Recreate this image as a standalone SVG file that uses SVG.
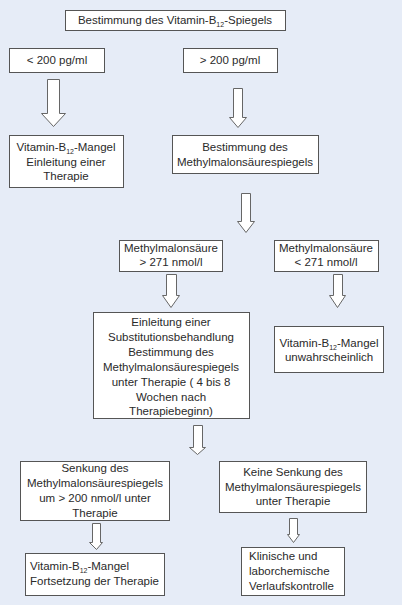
<svg xmlns="http://www.w3.org/2000/svg" width="402" height="605" viewBox="0 0 402 605">
<style>
.bg{fill:#e6ecf7}
.box{fill:#ffffff;stroke:#555555;stroke-width:1}
.arr{fill:#ffffff;stroke:#666666;stroke-width:1;stroke-linejoin:miter}
text{font-family:"Liberation Sans",Arial,sans-serif;font-size:11.5px;fill:#2a2a2a}
.c{text-anchor:middle}
.sub{font-size:7px}
</style>
<rect class="bg" x="0" y="0" width="402" height="605"/>
<g id="connectors">
<path class="arr" d="M47.5,79.5 H59.5 V113.5 H65.5 L53.5,126.5 L41.5,113.5 H47.5 Z"/>
<path class="arr" d="M233.5,88.5 H242.5 V117.5 H246.5 L238,127.5 L229.5,117.5 H233.5 Z"/>
<path class="arr" d="M241.5,193.5 H250.5 V221.5 H254.5 L246,232.5 L237.5,221.5 H241.5 Z"/>
<path class="arr" d="M166.5,274.5 H176.5 V295.5 H179.5 L171,307.5 L162.5,295.5 H166.5 Z"/>
<path class="arr" d="M333.5,274.5 H342.5 V295.5 H345.5 L337.5,307.5 L329.5,295.5 H333.5 Z"/>
<path class="arr" d="M193.5,425.5 H202.5 V447.5 H205.5 L197.5,454.5 L189.5,447.5 H193.5 Z"/>
<path class="arr" d="M92.5,523.5 H100.5 V542.5 H102.5 L96.5,549.5 L89.5,542.5 H92.5 Z"/>
<path class="arr" d="M289.5,518.5 H297.5 V534.5 H299.5 L293.5,542.5 L287.5,534.5 H289.5 Z"/>
</g>
<g id="n1">
<rect class="box" x="65.5" y="10.5" width="220" height="20"/>
<text class="c" x="175" y="24">Bestimmung des Vitamin-B<tspan class="sub" dy="3">12</tspan><tspan dy="-3">-Spiegels</tspan></text>
</g>
<g id="n2">
<rect class="box" x="9.5" y="48.5" width="95" height="24"/>
<text class="c" x="57" y="64">&lt; 200 pg/ml</text>
</g>
<g id="n3">
<rect class="box" x="183.5" y="48.5" width="94" height="24"/>
<text class="c" x="230" y="64">&gt; 200 pg/ml</text>
</g>
<g id="n4">
<rect class="box" x="9.5" y="135.5" width="114" height="52"/>
<text class="c" x="66" y="151">Vitamin-B<tspan class="sub" dy="3">12</tspan><tspan dy="-3">-Mangel</tspan></text>
<text class="c" x="66" y="166">Einleitung einer</text>
<text class="c" x="66" y="180">Therapie</text>
</g>
<g id="n5">
<rect class="box" x="172.5" y="135.5" width="146" height="38"/>
<text class="c" x="245" y="151">Bestimmung des</text>
<text class="c" x="245" y="166">Methylmalonsäurespiegels</text>
</g>
<g id="n6">
<rect class="box" x="119.5" y="240.5" width="103" height="31"/>
<text class="c" x="171" y="252">Methylmalonsäure</text>
<text class="c" x="171" y="266">&gt; 271 nmol/l</text>
</g>
<g id="n7">
<rect class="box" x="274.5" y="240.5" width="104" height="31"/>
<text class="c" x="326" y="252">Methylmalonsäure</text>
<text class="c" x="326" y="266">&lt; 271 nmol/l</text>
</g>
<g id="n8">
<rect class="box" x="93.5" y="312.5" width="156" height="106"/>
<text class="c" x="171" y="326">Einleitung einer</text>
<text class="c" x="171" y="341">Substitutionsbehandlung</text>
<text class="c" x="171" y="356">Bestimmung des</text>
<text class="c" x="171" y="371">Methylmalonsäurespiegels</text>
<text class="c" x="171" y="386">unter Therapie ( 4 bis 8</text>
<text class="c" x="171" y="401">Wochen nach</text>
<text class="c" x="171" y="415">Therapiebeginn)</text>
</g>
<g id="n9">
<rect class="box" x="274.5" y="326.5" width="109" height="46"/>
<text class="c" x="329" y="347">Vitamin-B<tspan class="sub" dy="3">12</tspan><tspan dy="-3">-Mangel</tspan></text>
<text class="c" x="329" y="361">unwahrscheinlich</text>
</g>
<g id="n10">
<rect class="box" x="20.5" y="461.5" width="149" height="59"/>
<text class="c" x="95" y="472">Senkung des</text>
<text class="c" x="95" y="487">Methylmalonsäurespiegels</text>
<text class="c" x="95" y="502">um &gt; 200 nmol/l unter</text>
<text class="c" x="95" y="517">Therapie</text>
</g>
<g id="n11">
<rect class="box" x="219.5" y="461.5" width="147" height="51"/>
<text class="c" x="293" y="476">Keine Senkung des</text>
<text class="c" x="293" y="491">Methylmalonsäurespiegels</text>
<text class="c" x="293" y="505">unter Therapie</text>
</g>
<g id="n12">
<rect class="box" x="25.5" y="553.5" width="139" height="42"/>
<text x="30" y="570">Vitamin-B<tspan class="sub" dy="3">12</tspan><tspan dy="-3">-Mangel</tspan></text>
<text x="30" y="585">Fortsetzung der Therapie</text>
</g>
<g id="n13">
<rect class="box" x="241.5" y="547.5" width="103" height="48"/>
<text x="249" y="560">Klinische und</text>
<text x="249" y="575">laborchemische</text>
<text x="249" y="590">Verlaufskontrolle</text>
</g>
</svg>
